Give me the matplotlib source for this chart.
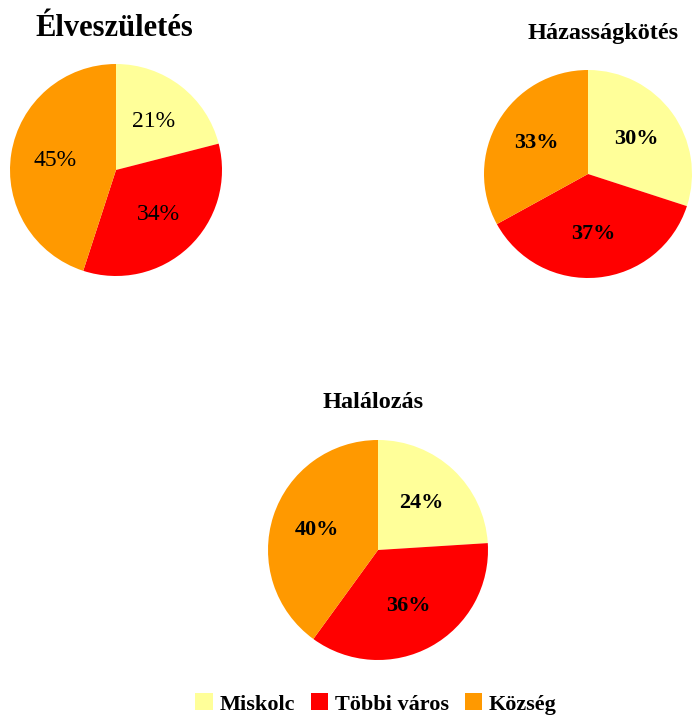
import matplotlib.pyplot as plt
from matplotlib.patches import Patch

plt.rcParams['font.family'] = ['Liberation Serif', 'DejaVu Serif']

W, H = 692, 715

categories = ["Miskolc", "Többi város", "Község"]
colors = ["#FFFF99", "#FF0000", "#FF9900"]

titles = ["Élveszületés", "Házasságkötés", "Halálozás"]
birth = [21, 34, 45]
marriage = [30, 37, 33]
death = [24, 36, 40]


def add_pie(cx, cy, r, values, bold):
    ax = fig.add_axes([(cx - r) / W, (H - cy - r) / H, 2 * r / W, 2 * r / H])
    wedges, texts, autotexts = ax.pie(
        values, colors=colors, startangle=90, counterclock=False,
        autopct="%1.0f%%", pctdistance=0.58, radius=1,
        textprops=dict(fontsize=16 if bold else 17, color="black",
                       fontweight="bold" if bold else "normal"))
    ax.set_xlim(-1, 1)
    ax.set_ylim(-1, 1)
    ax.set_aspect("equal")
    return wedges


fig = plt.figure(figsize=(W / 100, H / 100), dpi=100)

add_pie(116, 170, 106, birth, False)
add_pie(588, 174, 104, marriage, True)
add_pie(378, 550, 110, death, True)

fig.text(114 / W, 1 - 28 / H, titles[0], ha="center", va="center",
         fontsize=22, fontweight="bold")
fig.text(603 / W, 1 - 33 / H, titles[1], ha="center", va="center",
         fontsize=17.5, fontweight="bold")
fig.text(373 / W, 1 - 403 / H, titles[2], ha="center", va="center",
         fontsize=17.5, fontweight="bold")

handles = [Patch(facecolor=c, edgecolor="none") for c in colors]
fig.legend(handles, categories, loc="center", bbox_to_anchor=(376 / W, 1 - 704 / H),
           ncol=3, frameon=False, handlelength=0.8, handleheight=0.8,
           handletextpad=0.3, columnspacing=0.7,
           prop=dict(size=16, weight="bold"))

fig.savefig("out.png", dpi=100)
plt.close(fig)
